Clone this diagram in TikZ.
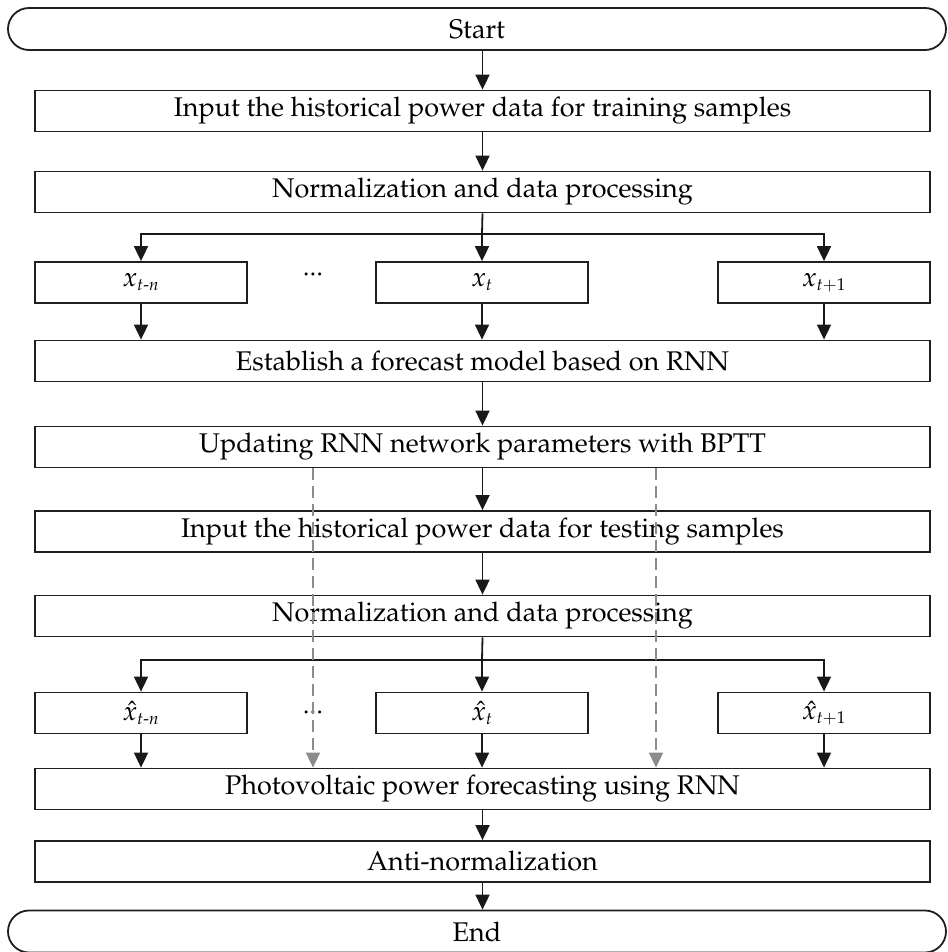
\documentclass[tikz,border=0pt]{standalone}
\usepackage[T1]{fontenc}
\usepackage{amsmath}
\usepackage{mathpazo}
\usetikzlibrary{arrows.meta,shapes.misc}

\DeclareMathSizes{27}{27}{17}{13}
\newcommand\mainfs{\fontsize{27}{31}\selectfont}
\newcommand\tightdots{\textperiodcentered\textperiodcentered\textperiodcentered}

\tikzset{
  box/.style={draw=black!88, line width=1.8pt, rectangle, minimum width=895pt,
    minimum height=41pt, inner sep=0pt, font=\mainfs},
  smallbox/.style={box, minimum width=212pt},
  term/.style={draw=black!88, line width=1.8pt, rounded rectangle, minimum width=938pt,
    minimum height=42pt, inner sep=0pt, font=\mainfs},
  arr/.style={draw=black!90, line width=1.8pt, -{Triangle[width=14pt,length=15pt]}},
  plain/.style={draw=black!90, line width=1.8pt},
  dasharr/.style={draw=black!45, line width=1.8pt, dash pattern=on 12pt off 6pt,
    -{Triangle[width=14pt,length=15pt,fill=black!45]}},
  dotsnode/.style={inner sep=0pt, font=\mainfs}
}

\begin{document}
\begin{tikzpicture}[x=1pt,y=-1pt]
  \useasboundingbox (0,0) rectangle (947,952);

  % terminals and process boxes
  \node[term] (start) at (477,29) {Start};
  \node[box] (train) at (482.5,111) {Input the historical power data for training samples};
  \node[box] (norm1) at (482.5,192) {Normalization and data processing};

  \node[smallbox] (xa) at (141,282.5) {$x_{t\text{-}n}$};
  \node[dotsnode] (dots1) at (313,277) {\tightdots};
  \node[smallbox] (xb) at (482,282.5) {$x_{t}$};
  \node[smallbox] (xc) at (824,282.5) {$x_{t{+}1}$};

  \node[box] (model) at (482.5,361) {Establish a forecast model based on RNN};
  \node[box] (bptt) at (482.5,447) {Updating RNN network parameters with BPTT};
  \node[box] (test) at (482.5,531.5) {Input the historical power data for testing samples};
  \node[box] (norm2) at (482.5,616) {Normalization and data processing};

  \node[smallbox] (ha) at (141,713) {$\hat{x}_{t\text{-}n}$};
  \node[dotsnode] (dots2) at (313,715) {\tightdots};
  \node[smallbox] (hb) at (482,713) {$\hat{x}_{t}$};
  \node[smallbox] (hc) at (824,713) {$\hat{x}_{t{+}1}$};

  \node[box] (pv) at (482.5,789) {Photovoltaic power forecasting using RNN};
  \node[box] (anti) at (482.5,861.5) {Anti-normalization};
  \node[term] (end) at (477,931.5) {End};

  % branch points
  \coordinate (sp1) at (482,234);
  \coordinate (sp2) at (482,660);
  \coordinate (dr) at (656,447);

  % main flow
  \draw[arr] (train.north |- start.south) -- (train.north);
  \draw[arr] (train.south) -- (norm1.north);
  \draw[plain] (norm1.south) -- (sp1);
  \draw[arr] (sp1) -| (xa.north);
  \draw[arr] (sp1) -- (xb.north);
  \draw[arr] (sp1) -| (xc.north);
  \draw[arr] (xa.south) -- (xa.south |- model.north);
  \draw[arr] (xb.south) -- (xb.south |- model.north);
  \draw[arr] (xc.south) -- (xc.south |- model.north);
  \draw[arr] (model.south) -- (bptt.north);
  \draw[arr] (bptt.south) -- (test.north);
  \draw[arr] (test.south) -- (norm2.north);
  \draw[plain] (norm2.south) -- (sp2);
  \draw[arr] (sp2) -| (ha.north);
  \draw[arr] (sp2) -- (hb.north);
  \draw[arr] (sp2) -| (hc.north);
  \draw[arr] (ha.south) -- (ha.south |- pv.north);
  \draw[arr] (hb.south) -- (hb.south |- pv.north);
  \draw[arr] (hc.south) -- (hc.south |- pv.north);
  \draw[arr] (pv.south) -- (anti.north);
  \draw[arr] (anti.south) -- (anti.south |- end.north);

  % trained parameters passed on to the forecasting stage
  \draw[dasharr] (dots2 |- bptt.south) -- (dots2 |- pv.north);
  \draw[dasharr] (dr |- bptt.south) -- (dr |- pv.north);
\end{tikzpicture}
\end{document}
